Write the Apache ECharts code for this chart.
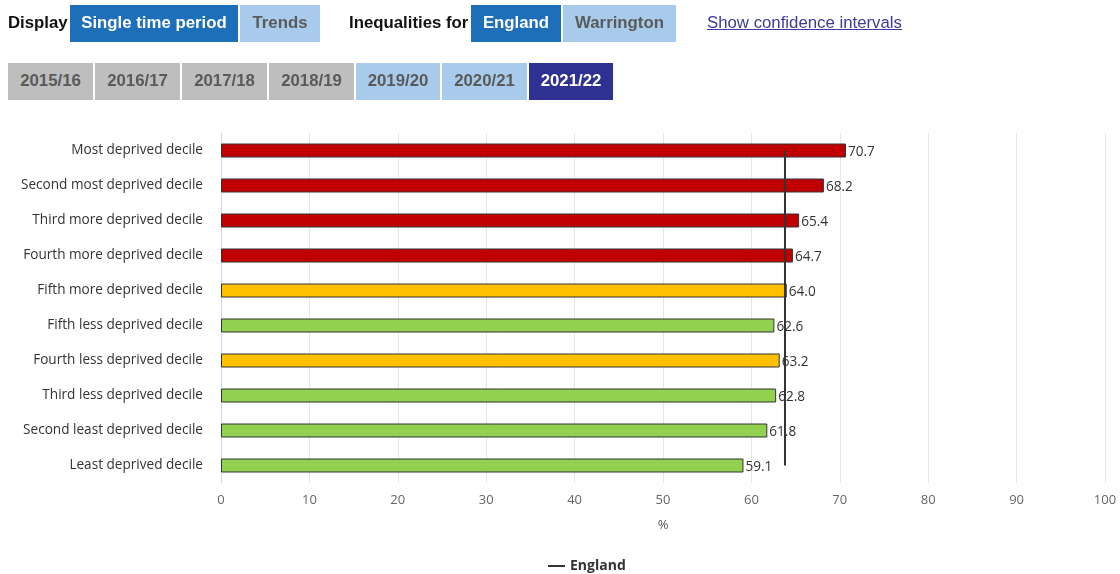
<!DOCTYPE html>
<html lang="en">
<head>
  <meta charset="UTF-8">
  <title>Inequalities - deprivation deciles</title>
  <script src="https://cdn.jsdelivr.net/npm/echarts@6/dist/echarts.min.js"></script>
  <style>
    body { margin: 0; background: #fff; font-family: "Liberation Sans", Arial, sans-serif; }
    #main { position: absolute; left: 0; top: 0; width: 1120px; height: 574px; }
    .bar { position: absolute; font-weight: bold; font-size: 16.8px; white-space: nowrap; }
    .btn { position: absolute; height: 37px; line-height: 36px; text-align: center; color: #fff; }
    .on { background: #1e6fb9; color: #fff; }
    .off { background: #a8cbec; color: #5a5a5a; }
    .old { background: #bebebe; color: #5a5a5a; }
    .cur { background: #2e3192; color: #fff; }
    .lbl { position: absolute; color: #111; }
    .link { position: absolute; font-weight: normal; color: #3c3a9a; text-decoration: underline; }
  </style>
</head>
<body>
<div id="main"></div>

<div class="bar">
  <span class="lbl" style="left:8px; top:13px;">Display</span>
  <div class="btn on" style="left:70px; top:5px; width:168px;">Single time period</div>
  <div class="btn off" style="left:240px; top:5px; width:80px;">Trends</div>
  <span class="lbl" style="left:349px; top:13px;">Inequalities for</span>
  <div class="btn on" style="left:471px; top:5px; width:90px;">England</div>
  <div class="btn off" style="left:563px; top:5px; width:113px;">Warrington</div>
  <span class="link" style="left:707px; top:13px;">Show confidence intervals</span>

  <div class="btn old" style="left:8px; top:63px; width:85px;">2015/16</div>
  <div class="btn old" style="left:95px; top:63px; width:85px;">2016/17</div>
  <div class="btn old" style="left:182px; top:63px; width:85px;">2017/18</div>
  <div class="btn old" style="left:269px; top:63px; width:85px;">2018/19</div>
  <div class="btn off" style="left:356px; top:63px; width:84px;">2019/20</div>
  <div class="btn off" style="left:442px; top:63px; width:85px;">2020/21</div>
  <div class="btn cur" style="left:529px; top:63px; width:84px;">2021/22</div>
</div>

<script>
  // deciles, top to bottom
  var deciles = ['Most deprived decile', 'Second most deprived decile', 'Third more deprived decile',
    'Fourth more deprived decile', 'Fifth more deprived decile', 'Fifth less deprived decile',
    'Fourth less deprived decile', 'Third less deprived decile', 'Second least deprived decile',
    'Least deprived decile'];
  var values = [70.7, 68.2, 65.4, 64.7, 64.0, 62.6, 63.2, 62.8, 61.8, 59.1];
  // r = worse, a = similar, g = better than England
  var ratings = ['r', 'r', 'r', 'r', 'a', 'g', 'a', 'g', 'g', 'g'];
  var englandValue = 63.8;
  var xTicks = [0, 10, 20, 30, 40, 50, 60, 70, 80, 90, 100];

  var colours = { r: '#c00000', a: '#ffc000', g: '#92d050' };

  var barData = values.map(function (v, i) {
    return { value: v, itemStyle: { color: colours[ratings[i]] } };
  });

  var chart = echarts.init(document.getElementById('main'));
  chart.setOption({
    animation: false,
    textStyle: { fontFamily: '"Open Sans", sans-serif' },
    grid: { left: 221, right: 15, top: 133, bottom: 91 },
    legend: {
      left: 543, bottom: -4,
      itemWidth: 17, itemHeight: 2, itemGap: 6,
      textStyle: { fontSize: 14, fontWeight: 'bold', color: '#333' },
      data: [{ name: 'England', icon: 'rect' }]
    },
    xAxis: {
      type: 'value', min: xTicks[0], max: xTicks[xTicks.length - 1], interval: 10,
      name: '%', nameLocation: 'middle', nameGap: 36,
      nameTextStyle: { color: '#555', fontSize: 13 },
      axisLine: { show: false }, axisTick: { show: false },
      axisLabel: { color: '#666', fontSize: 13, margin: 11 },
      splitLine: { lineStyle: { color: '#e6e6e6' } }
    },
    yAxis: {
      type: 'category', inverse: true, data: deciles,
      axisLine: { lineStyle: { color: '#ccd6eb' } },
      axisTick: { show: false },
      axisLabel: { color: '#333', fontSize: 13.6, margin: 18, lineHeight: 18, padding: [4, 0, 0, 0] }
    },
    series: [
      {
        type: 'bar', data: barData, barWidth: 14,
        itemStyle: { borderColor: '#333', borderWidth: 1 },
        label: { show: true, position: 'right', distance: 2, color: '#333', fontSize: 13.6,
          offset: [0, 2],
          formatter: function (p) { return p.value.toFixed(1); } },
        z: 2
      },
      {
        name: 'England', type: 'line',
        data: [[englandValue, 0], [englandValue, deciles.length - 1]],
        symbol: 'none', lineStyle: { color: '#333', width: 2 },
        itemStyle: { color: '#333' }, z: 3
      }
    ]
  });
</script>
</body>
</html>
